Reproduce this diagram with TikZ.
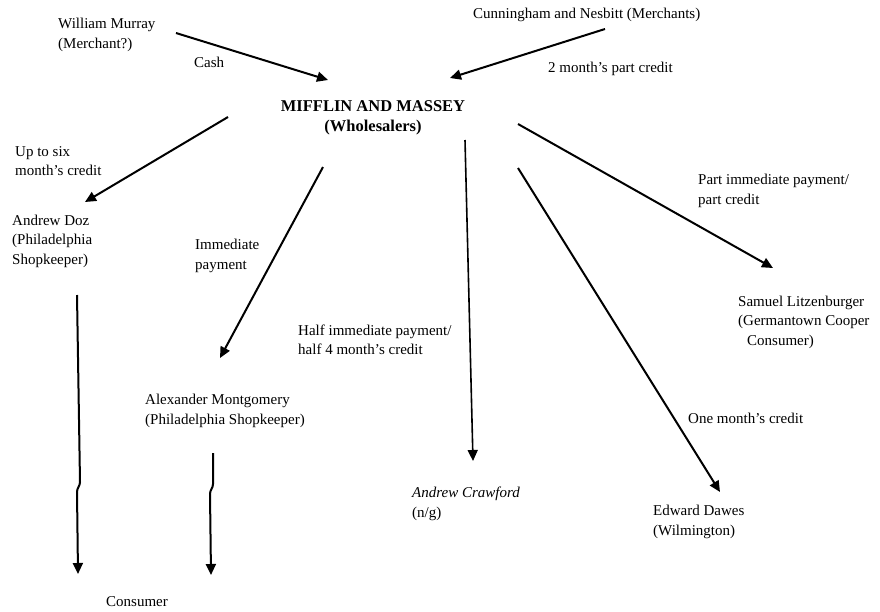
\documentclass[tikz,border=0pt]{standalone}
\usepackage{fontspec}
\setmainfont{Liberation Serif}
\usetikzlibrary{arrows.meta}
\begin{document}
\begin{tikzpicture}[x=1pt,y=-1pt,
  font=\fontsize{15}{19.5}\selectfont,
  lbl/.style={anchor=west, align=left, inner sep=0pt},
  hub/.style={anchor=center, align=center, inner sep=0pt,
    font=\fontsize{16.5}{20}\selectfont\bfseries},
  flow/.style={-{Triangle[length=11pt,width=10pt]}, line width=2pt},
  thinflow/.style={flow, line width=1.6pt}]
\useasboundingbox (0,0) rectangle (880,611);

% parties
\node[lbl] (murray) at (58,35) {William Murray\\(Merchant?)};
\node[lbl] (cn) at (473,15) {Cunningham and Nesbitt (Merchants)};
\node[hub] (mm) at (373,118) {MIFFLIN AND MASSEY\\(Wholesalers)};
\node[lbl] (doz) at (12,241) {Andrew Doz\\(Philadelphia\\Shopkeeper)};
\node[lbl] (mont) at (145,411) {Alexander Montgomery\\(Philadelphia Shopkeeper)};
\node[lbl] (crawford) at (412,504) {\textit{Andrew Crawford}\\(n/g)};
\node[lbl] (dawes) at (653,522) {Edward Dawes\\(Wilmington)};
\node[lbl] (litz) at (738,322) {Samuel Litzenburger\\(Germantown Cooper\\\hspace*{9pt}Consumer)};
\node[lbl] (consumer) at (106,602) {Consumer};

% terms of payment
\node[lbl] (cash) at (194,62) {Cash};
\node[lbl] (cred2) at (548,69) {2 month's part credit};
\node[lbl] (up6) at (15,161) {Up to six\\month's credit};
\node[lbl] (immed) at (195,256) {Immediate\\payment};
\node[lbl] (half) at (298,340) {Half immediate payment/\\half 4 month's credit};
\node[lbl] (partimm) at (698,191) {Part immediate payment/\\part credit};
\node[lbl] (onemonth) at (688,418) {One month's credit};

% arrow end points
\coordinate (murray-s) at (176,33);  \coordinate (mm-w1) at (328,80);
\coordinate (cn-s) at (605,29);      \coordinate (mm-e1) at (450,78);
\coordinate (mm-doz) at (228,117);   \coordinate (doz-n) at (85,202);
\coordinate (mm-mont) at (323,167);  \coordinate (mont-n) at (220,358);
\coordinate (mm-craw) at (465,140);  \coordinate (craw-n) at (473,461);
\coordinate (mm-daw) at (518,168);   \coordinate (daw-n) at (720,492);
\coordinate (mm-litz) at (518,124);  \coordinate (litz-n) at (773,268);
\coordinate (doz-s) at (77,295);     \coordinate (doz-k1) at (80,482);
\coordinate (doz-k2) at (77,492);    \coordinate (cons-a) at (78,574);
\coordinate (mont-s) at (213,453);   \coordinate (mont-k1) at (213,484);
\coordinate (mont-k2) at (210,494);  \coordinate (cons-b) at (211,575);

% supply and credit flows
\draw[flow] (murray-s) -- (mm-w1);
\draw[flow] (cn-s) -- (mm-e1);
\draw[flow] (mm-doz) -- (doz-n);
\draw[flow] (mm-mont) -- (mont-n);
\draw[thinflow] (mm-craw) -- (craw-n);
\draw[flow] (mm-daw) -- (daw-n);
\draw[flow] (mm-litz) -- (litz-n);
\draw[flow] (doz-s) -- (doz-k1) to[out=-90,in=90] (doz-k2) -- (cons-a);
\draw[flow] (mont-s) -- (mont-k1) to[out=-90,in=90] (mont-k2) -- (cons-b);
\end{tikzpicture}
\end{document}
